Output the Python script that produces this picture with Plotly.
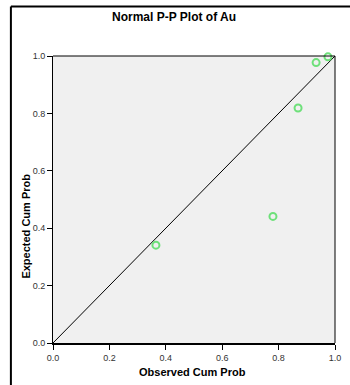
import plotly.graph_objects as go

# Normal P-P plot data for Au
observed_cum_prob = [0.365, 0.78, 0.869, 0.933, 0.975]
expected_cum_prob = [0.341, 0.441, 0.819, 0.977, 0.997]
ref_line = [0.0, 1.0]
tick_vals = [0.0, 0.2, 0.4, 0.6, 0.8, 1.0]
tick_text = ["0.0", "0.2", "0.4", "0.6", "0.8", "1.0"]

W, H = 350, 385
ML, MR, MT, MB = 53, 9, 56, 42
PW, PH = W - ML - MR, H - MT - MB


def px_x(p):
    return (p - ML) / PW


def px_y(p):
    return (H - MB - p) / PH


fig = go.Figure()

fig.add_trace(go.Scatter(
    x=ref_line, y=ref_line, mode="lines",
    line=dict(color="black", width=1), hoverinfo="skip", showlegend=False,
))
fig.add_trace(go.Scatter(
    x=observed_cum_prob, y=expected_cum_prob, mode="markers",
    marker=dict(symbol="circle-open", size=7, color="#6ee07a",
                line=dict(width=2, color="#6ee07a")),
    cliponaxis=False, showlegend=False,
))

axis_font = dict(family="Liberation Sans, Arial, sans-serif", size=9, color="#333333")
common = dict(range=[0, 1], tickvals=tick_vals, ticktext=tick_text,
              showgrid=False, zeroline=False, ticks="outside", ticklen=5,
              tickcolor="black", tickfont=axis_font, fixedrange=True)

fig.update_xaxes(**common, showline=True, linecolor="black", linewidth=2)
fig.update_yaxes(**common, showline=True, linecolor="black", linewidth=1)

shapes = [
    # plot area border (top and right)
    dict(type="line", xref="paper", yref="paper", x0=0, x1=1, y0=1, y1=1,
         line=dict(color="black", width=1)),
    dict(type="line", xref="paper", yref="paper", x0=1, x1=1, y0=0, y1=1,
         line=dict(color="black", width=1)),
    # outer chart frame
    dict(type="line", xref="paper", yref="paper",
         x0=px_x(10), x1=px_x(10), y0=px_y(400), y1=px_y(6.5),
         line=dict(color="black", width=2)),
    dict(type="line", xref="paper", yref="paper",
         x0=px_x(10), x1=px_x(360), y0=px_y(6.5), y1=px_y(6.5),
         line=dict(color="black", width=2)),
]

bold = dict(family="Liberation Sans, Arial, sans-serif", color="black")
annotations = [
    dict(text="<b>Normal P-P Plot of Au</b>", xref="paper", yref="paper",
         x=px_x(177), y=px_y(17), showarrow=False, xanchor="center",
         yanchor="middle", font=dict(size=12, **bold)),
    dict(text="<b>Observed Cum Prob</b>", xref="paper", yref="paper",
         x=px_x(195), y=px_y(372), showarrow=False, xanchor="center",
         yanchor="middle", font=dict(size=11, **bold)),
    dict(text="<b>Expected Cum Prob</b>", xref="paper", yref="paper",
         x=px_x(25), y=px_y(226), showarrow=False, xanchor="center",
         yanchor="middle", textangle=-90, font=dict(size=11, **bold)),
]

fig.update_layout(
    width=W, height=H,
    margin=dict(l=ML, r=MR, t=MT, b=MB),
    paper_bgcolor="white", plot_bgcolor="#f0f0f0",
    shapes=shapes, annotations=annotations,
    showlegend=False,
)

fig.write_html("out.html")
